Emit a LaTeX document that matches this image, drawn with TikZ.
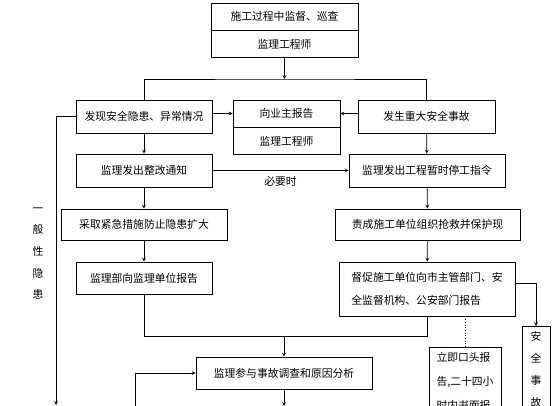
\documentclass[tikz,border=0pt]{standalone}
\usepackage{fontspec}
\newfontfamily\cjk{Noto Sans CJK SC}
\usepackage{tikz}
\usetikzlibrary{shapes,arrows,positioning}

\begin{document}
\begin{tikzpicture}[
        x=1pt, y=-1pt,
        box/.style={rectangle, draw, line width=0.9pt, inner sep=2pt, align=center, font=\cjk\fontsize{10.8}{13}\selectfont},
        tallbox/.style={rectangle, draw, line width=0.9pt, anchor=north, inner xsep=6pt, inner ysep=5pt, align=left, font=\cjk\fontsize{10.8}{24}\selectfont},
        flow/.style={->, line width=0.7pt, >=stealth},
        link/.style={line width=0.7pt}
    ]
        \useasboundingbox (0,0) rectangle (560,406);
        \fill[white] (0,0) rectangle (560,406);
        \clip (0,0) rectangle (560,406);

        % Top
        \node[box, minimum width=147pt, minimum height=27pt] (patrol) at (284.5,16.5) {施工过程中监督、巡查};
        \node[box, minimum width=147pt, minimum height=27pt, below=0cm of patrol] (patrolby) {监理工程师};
        \coordinate (split) at (284.5,79);

        % Second row
        \node[box, minimum width=136pt, minimum height=33pt] (hazard) at (144,116.5) {发现安全隐患、异常情况};
        \node[box, minimum width=107pt, minimum height=27pt] (owner) at (286.5,113.5) {向业主报告};
        \node[box, minimum width=107pt, minimum height=27pt, below=0cm of owner] (ownerby) {监理工程师};
        \node[box, minimum width=137pt, minimum height=33pt] (accident) at (426.5,116.5) {发生重大安全事故};

        % Left branch
        \node[box, minimum width=136pt, minimum height=33pt] (notice) at (144,170.5) {监理发出整改通知};
        \node[box, minimum width=166pt, minimum height=31pt] (measure) at (144,224.5) {采取紧急措施防止隐患扩大};
        \node[box, minimum width=136pt, minimum height=32pt] (report) at (144,278) {监理部向监理单位报告};
        \node[font=\cjk\fontsize{10.8}{21.7}\selectfont, align=center] (general) at (38,253.5) {一\\般\\性\\隐\\患};

        % Right branch
        \node[box, minimum width=156pt, minimum height=33pt] (halt) at (427,170.5) {监理发出工程暂时停工指令};
        \node[box, minimum width=185pt, minimum height=31pt] (rescue) at (427.5,224.5) {责成施工单位组织抢救并保护现};
        \node[box, minimum width=176pt, minimum height=54pt, align=left, font=\cjk\fontsize{10.8}{23}\selectfont] (urge) at (427,289) {督促施工单位向市主管部门、安\\全监督机构、公安部门报告};
        \node[tallbox, minimum width=72pt] (oral) at (465,347) {立即口头报\\告,二十四小\\时内书面报};
        \node[tallbox, minimum width=28pt, inner xsep=2pt, align=center, font=\cjk\fontsize{10.8}{22}\selectfont] (safety) at (536,326) {安\\全\\事\\故};

        % Bottom
        \coordinate (join) at (284,336);
        \node[box, minimum width=176pt, minimum height=32pt] (investigate) at (284,373) {监理参与事故调查和原因分析};
        \coordinate (leftend) at (56,405);
        \coordinate (downend) at (284,406);
        \coordinate (leftin) at (135,412);

        % Connectors
        \draw[flow] (patrolby.south) -- (split);
        \draw[link] (hazard.north) |- (split) -| (accident.north);
        \draw[flow] (hazard.east |- owner) -- (owner.west);
        \draw[flow] (accident.west |- owner) -- (owner.east);
        \draw[flow] (hazard.west) -| (leftend);
        \draw[flow] (hazard) -- (notice);
        \draw[flow] (notice) -- node[below=2pt, font=\cjk\fontsize{10.8}{13}\selectfont] (needed) {必要时} (halt);
        \draw[flow] (notice) -- (measure);
        \draw[flow] (measure) -- (report);
        \draw[flow] (accident) -- (halt);
        \draw[flow] (halt) -- (rescue);
        \draw[flow] (rescue) -- (urge);
        \draw[link] (report.south) |- (join);
        \draw[link] (urge.south) |- (join);
        \draw[flow] (join) -- (investigate.north);
        \draw[flow] ([yshift=6pt]urge.east) -| (safety.north);
        \draw[link, dotted] (urge.south -| oral.north) -- (oral.north);
        \draw[flow] (investigate.south) -- (downend);
        \draw[flow] (leftin) |- (investigate.west);

    \end{tikzpicture}
\end{document}
